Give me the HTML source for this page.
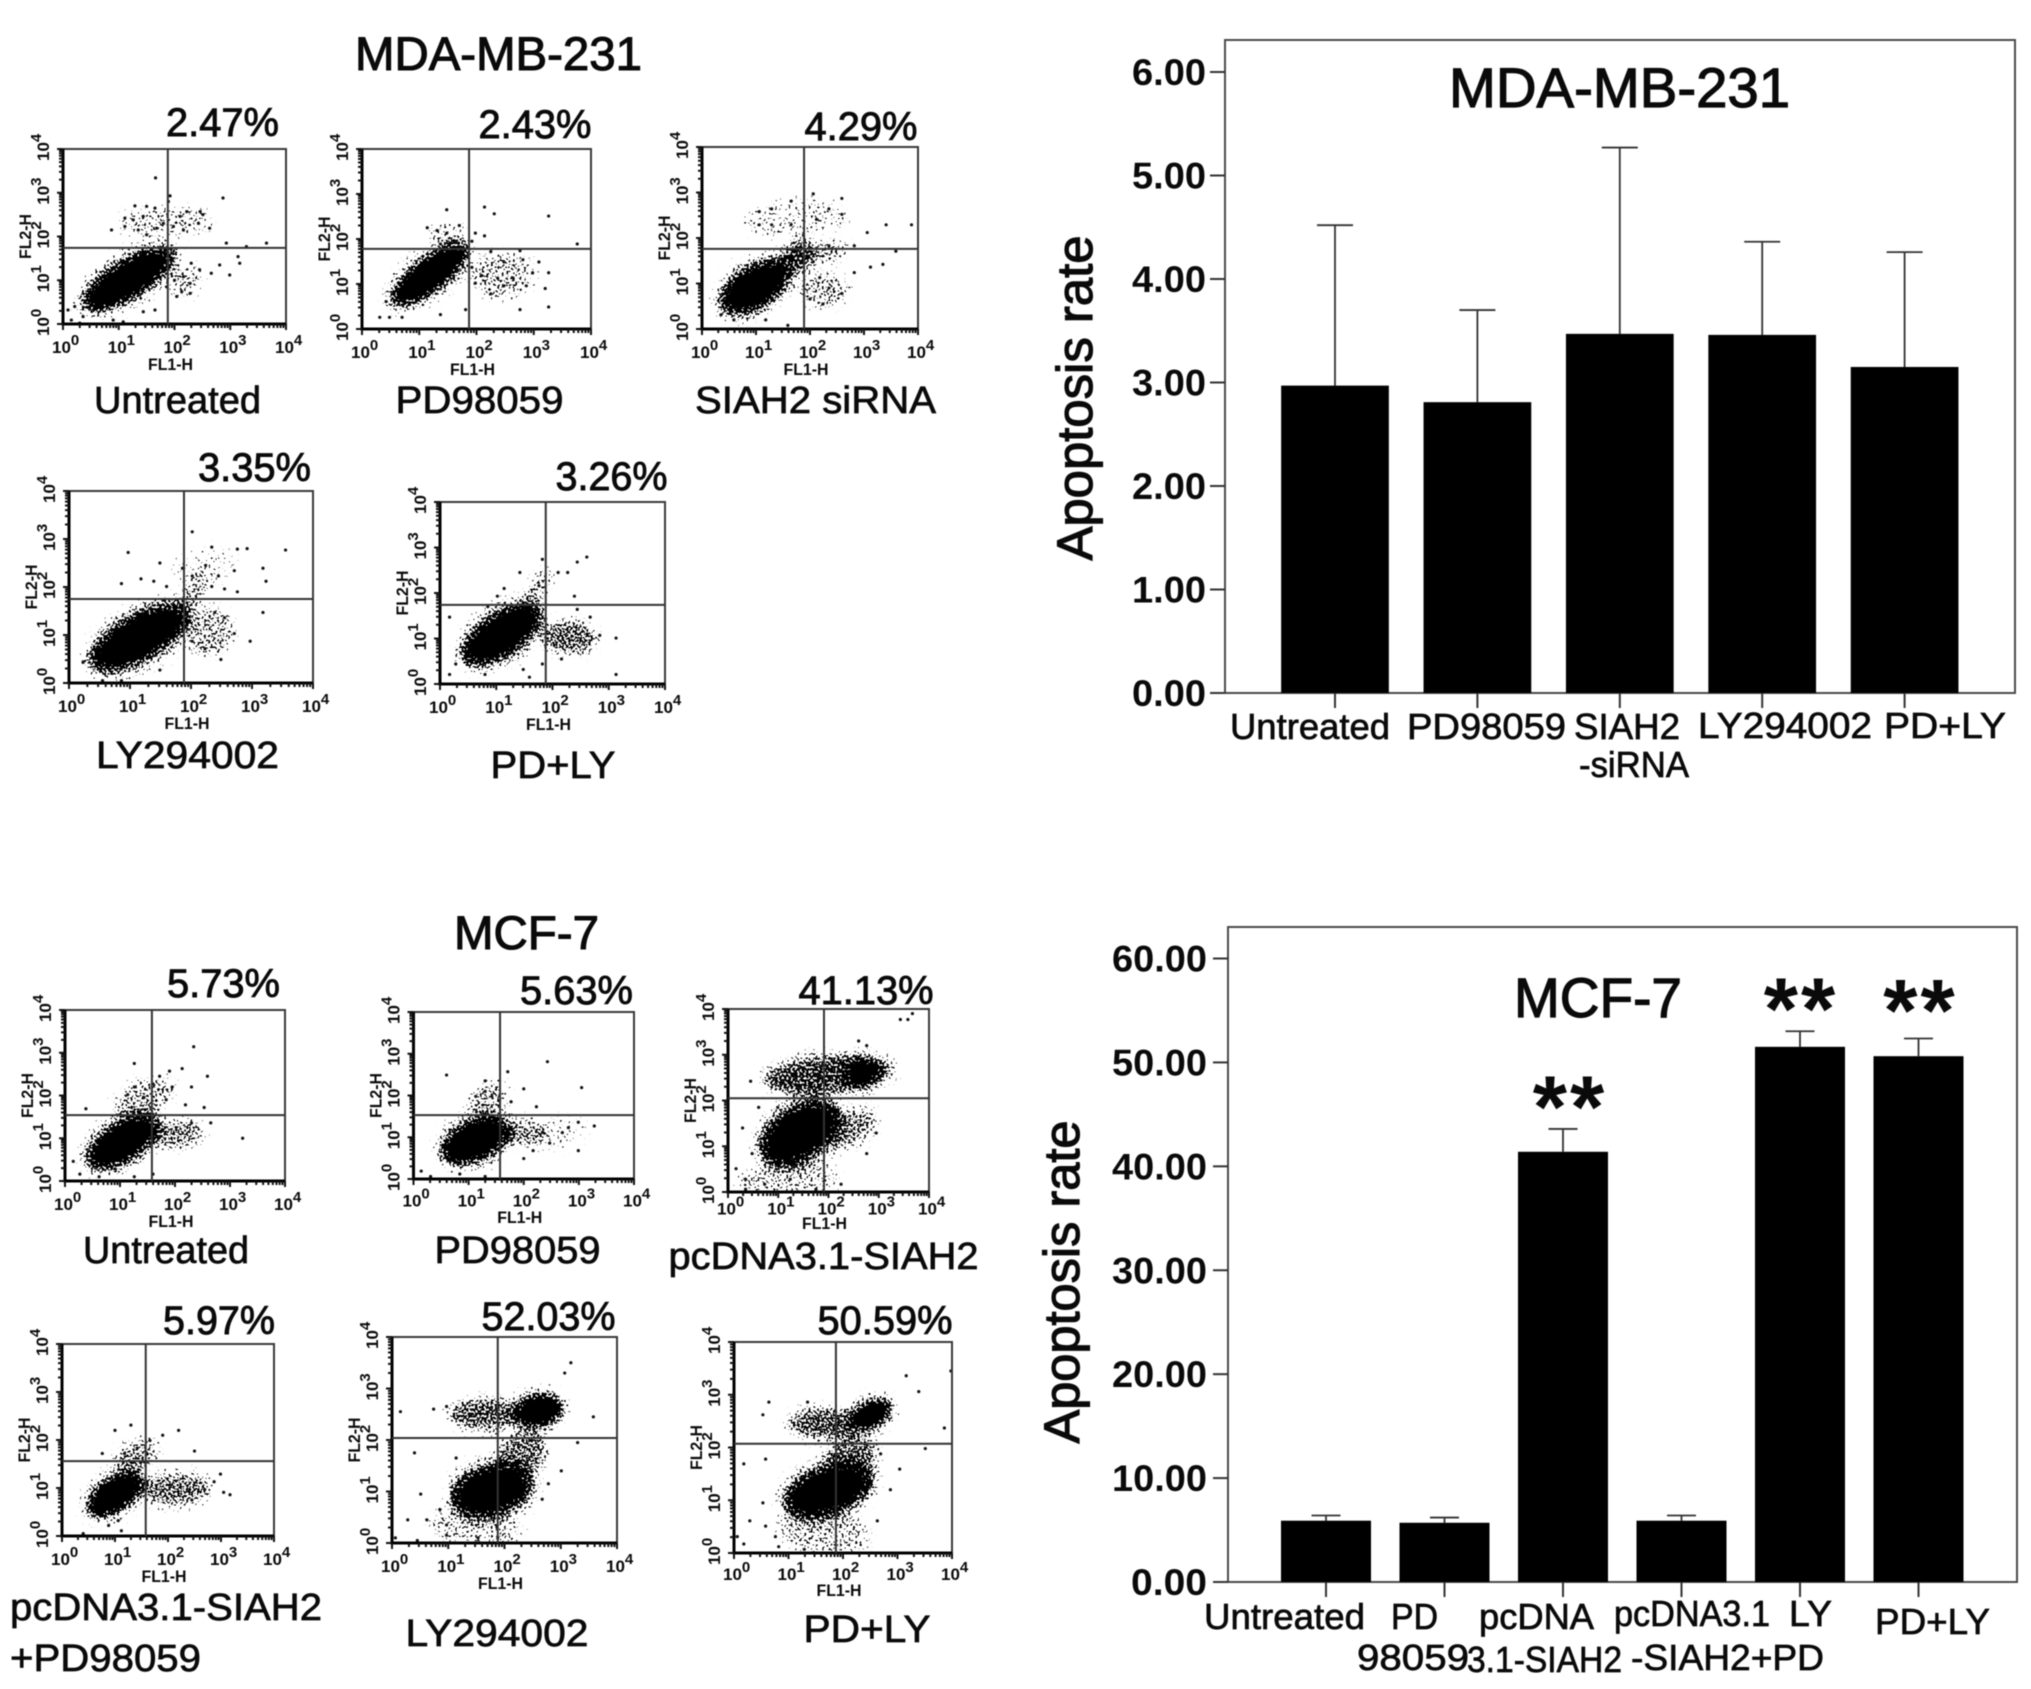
<!DOCTYPE html>
<html lang="en">
<head>
<meta charset="utf-8">
<title>Apoptosis rate in MDA-MB-231 and MCF-7</title>
<style>
html,body{margin:0;padding:0;background:#fff;}
svg{display:block;filter:blur(0.4px);}
text{font-family:"Liberation Sans",sans-serif;fill:#0a0a0a;}
.ttl{font-size:47px;stroke:#0a0a0a;stroke-width:1.1px;}
.pct{font-size:40px;stroke:#0a0a0a;stroke-width:.9px;}
.lab{font-size:38px;stroke:#0a0a0a;stroke-width:.7px;}
.cat{font-size:36px;stroke:#0a0a0a;stroke-width:.7px;}
.big{font-size:56px;stroke:#0a0a0a;stroke-width:1.2px;}
.ylab{font-size:50px;stroke:#0a0a0a;stroke-width:1.2px;}
</style>
</head>
<body>
<svg id="figure" xmlns="http://www.w3.org/2000/svg" width="2031" height="1689" viewBox="0 0 2031 1689">
<defs>
<filter id="speckle" x="-40%" y="-40%" width="180%" height="180%" color-interpolation-filters="sRGB">
<feTurbulence type="fractalNoise" baseFrequency="0.45" numOctaves="1" seed="7" result="noise"/>
<feColorMatrix in="noise" type="matrix" values="0 0 0 0 0  0 0 0 0 0  0 0 0 0 0  2.2 0 0 0 -0.6" result="noiseAlpha"/>
<feGaussianBlur in="SourceAlpha" stdDeviation="5" result="soft"/>
<feComposite in="soft" in2="noiseAlpha" operator="arithmetic" k1="0" k2="1" k3="1" k4="-1" result="sum"/>
<feColorMatrix in="sum" type="matrix" values="0 0 0 0 0  0 0 0 0 0  0 0 0 0 0  0 0 0 10 0"/>
</filter>
</defs>

<g>
<text class="ttl" x="355" y="70" textLength="287" lengthAdjust="spacingAndGlyphs">MDA-MB-231</text>
<text class="pct" x="166" y="136" textLength="113" lengthAdjust="spacingAndGlyphs">2.47%</text>
<text class="pct" x="478.5" y="138" textLength="113" lengthAdjust="spacingAndGlyphs">2.43%</text>
<text class="pct" x="804.5" y="140" textLength="113" lengthAdjust="spacingAndGlyphs">4.29%</text>
<text class="lab" x="94" y="413" textLength="167" lengthAdjust="spacingAndGlyphs">Untreated</text>
<text class="lab" x="395.5" y="413" textLength="168" lengthAdjust="spacingAndGlyphs">PD98059</text>
<text class="lab" x="695" y="413" textLength="241" lengthAdjust="spacingAndGlyphs">SIAH2 siRNA</text>
<text class="pct" x="198" y="481" textLength="113" lengthAdjust="spacingAndGlyphs">3.35%</text>
<text class="pct" x="555.5" y="490" textLength="112" lengthAdjust="spacingAndGlyphs">3.26%</text>
<text class="lab" x="96" y="768" textLength="183" lengthAdjust="spacingAndGlyphs">LY294002</text>
<text class="lab" x="490.5" y="778" textLength="125" lengthAdjust="spacingAndGlyphs">PD+LY</text>
</g>

<g>
<text class="ttl" x="454" y="949" textLength="145" lengthAdjust="spacingAndGlyphs">MCF-7</text>
<text class="pct" x="167" y="997" textLength="113" lengthAdjust="spacingAndGlyphs">5.73%</text>
<text class="pct" x="520" y="1004" textLength="113" lengthAdjust="spacingAndGlyphs">5.63%</text>
<text class="pct" x="798.5" y="1004" textLength="135" lengthAdjust="spacingAndGlyphs">41.13%</text>
<text class="lab" x="83" y="1263" textLength="166" lengthAdjust="spacingAndGlyphs">Untreated</text>
<text class="lab" x="434.5" y="1263" textLength="166" lengthAdjust="spacingAndGlyphs">PD98059</text>
<text class="lab" x="668.5" y="1269" textLength="310" lengthAdjust="spacingAndGlyphs">pcDNA3.1-SIAH2</text>
<text class="pct" x="163" y="1334" textLength="112" lengthAdjust="spacingAndGlyphs">5.97%</text>
<text class="pct" x="481.5" y="1330" textLength="134" lengthAdjust="spacingAndGlyphs">52.03%</text>
<text class="pct" x="817.5" y="1334" textLength="135" lengthAdjust="spacingAndGlyphs">50.59%</text>
<text class="lab" x="10" y="1620" textLength="312" lengthAdjust="spacingAndGlyphs">pcDNA3.1-SIAH2</text>
<text class="lab" x="10" y="1671" textLength="191" lengthAdjust="spacingAndGlyphs">+PD98059</text>
<text class="lab" x="405.5" y="1646" textLength="183" lengthAdjust="spacingAndGlyphs">LY294002</text>
<text class="lab" x="803.5" y="1642" textLength="127" lengthAdjust="spacingAndGlyphs">PD+LY</text>
</g>

<g id="flow-layer"></g>

<g id="mda-chart">
<text class="big" x="1449" y="107" textLength="341" lengthAdjust="spacingAndGlyphs">MDA-MB-231</text>
<text class="ylab" transform="translate(1092 398) rotate(-90)" text-anchor="middle" textLength="325" lengthAdjust="spacingAndGlyphs">Apoptosis rate</text>
<text class="cat" x="1230" y="739" textLength="160" lengthAdjust="spacingAndGlyphs">Untreated</text>
<text class="cat" x="1407" y="739" textLength="159" lengthAdjust="spacingAndGlyphs">PD98059</text>
<text class="cat" x="1574" y="739" textLength="106" lengthAdjust="spacingAndGlyphs">SIAH2</text>
<text class="cat" x="1579" y="777" textLength="110" lengthAdjust="spacingAndGlyphs">-siRNA</text>
<text class="cat" x="1698" y="738" textLength="174" lengthAdjust="spacingAndGlyphs">LY294002</text>
<text class="cat" x="1884" y="738" textLength="122" lengthAdjust="spacingAndGlyphs">PD+LY</text>
</g>

<g id="mcf-chart">
<text class="big" x="1514" y="1017" textLength="168" lengthAdjust="spacingAndGlyphs">MCF-7</text>
<text class="ylab" transform="translate(1079 1282) rotate(-90)" text-anchor="middle" textLength="323" lengthAdjust="spacingAndGlyphs">Apoptosis rate</text>
<text class="cat" x="1204" y="1629" textLength="161" lengthAdjust="spacingAndGlyphs">Untreated</text>
<text class="cat" x="1391" y="1629" textLength="47" lengthAdjust="spacingAndGlyphs">PD</text>
<text class="cat" x="1357" y="1670" textLength="112" lengthAdjust="spacingAndGlyphs">98059</text>
<text class="cat" x="1479" y="1629" textLength="115" lengthAdjust="spacingAndGlyphs">pcDNA</text>
<text class="cat" x="1467" y="1672" textLength="155" lengthAdjust="spacingAndGlyphs">3.1-SIAH2</text>
<text class="cat" x="1614" y="1626" textLength="156" lengthAdjust="spacingAndGlyphs">pcDNA3.1</text>
<text class="cat" x="1631" y="1670" textLength="193" lengthAdjust="spacingAndGlyphs">-SIAH2+PD</text>
<text class="cat" x="1789" y="1626" textLength="43" lengthAdjust="spacingAndGlyphs">LY</text>
<text class="cat" x="1875" y="1634" textLength="115" lengthAdjust="spacingAndGlyphs">PD+LY</text>
</g>
</svg>

<script>
// ---------- bar chart data ----------
const mdaCategories = ['Untreated','PD98059','SIAH2-siRNA','LY294002','PD+LY'];
const mdaValues = [2.97,2.81,3.47,3.46,3.15];
const mdaUpper = [4.52,3.70,5.27,4.36,4.26];
const mdaTicks = [0,1,2,3,4,5,6];
const mdaTickLabels = ['0.00','1.00','2.00','3.00','4.00','5.00','6.00'];

const mcfCategories = ['Untreated','PD98059','pcDNA3.1-SIAH2','pcDNA3.1-SIAH2+PD','LY','PD+LY'];
const mcfValues = [5.9,5.7,41.4,5.9,51.5,50.6];
const mcfUpper = [6.4,6.2,43.6,6.4,53.0,52.3];
const mcfTicks = [0,10,20,30,40,50,60];
const mcfTickLabels = ['0.00','10.00','20.00','30.00','40.00','50.00','60.00'];
const mcfSignificant = [false,false,true,false,true,true];

// ---------- flow cytometry data, all in log10 fluorescence decades ----------
const decades = [0,1,2,3,4];
const gateXValues = [1.88,1.87,1.89,1.885,1.88,1.58,1.57,1.91,1.58,1.88,1.87];
const gateYValues = [1.74,1.78,1.76,1.75,1.74,1.54,1.53,2.05,1.56,2.04,2.07];

// populations: [startX,startY,endX,endY,halfWidth,density]
const populationsA1 = [[.45,.47,1.9,1.6,.38,1],[1.1,2.3,2.6,2.4,.3,.3],[2.0,1.0,2.4,1.0,.3,.36]];
const populationsA2 = [[.6,.64,1.76,1.77,.33,1],[2.0,1.15,2.9,1.25,.45,.36],[1.3,2.1,1.7,2.1,.2,.32]];
const populationsA3 = [[.45,.53,1.5,1.3,.42,1],[1.5,1.3,1.93,1.8,.3,.72],[.9,2.35,2.6,2.5,.38,.24],[1.9,.85,2.6,.85,.33,.4],[2.0,1.6,2.6,1.75,.2,.45]];
const populationsA4 = [[.44,.43,1.86,1.46,.42,1],[2,1.1,2.6,1.0,.45,.4],[1.9,1.6,2.2,2.2,.2,.42],[1.8,2.4,2.7,2.5,.3,.16]];
const populationsA5 = [[.5,.6,1.7,1.6,.42,1],[1.9,1.05,2.7,1.0,.33,.58],[1.6,1.9,1.9,2.4,.2,.4]];
const populationsB1 = [[.5,.46,1.6,1.37,.4,1],[1.7,1.05,2.4,1.15,.3,.5],[1.0,1.7,1.9,2.2,.35,.4]];
const populationsB2 = [[.6,.62,1.65,1.23,.42,1],[1.7,1.1,2.3,1.1,.28,.48],[1.1,1.7,1.6,2.1,.3,.42],[2.3,1.0,3.0,1.2,.3,.2]];
const populationsB3 = [[.77,.85,2.1,1.73,.55,1],[2.4,2.55,2.9,2.65,.3,1],[.8,2.45,3.2,2.68,.42,.68],[.3,.2,2.1,.3,.4,.3],[2.1,1.15,2.8,1.65,.35,.5]];
const populationsB4 = [[.58,.55,1.4,1.18,.33,1],[1.55,.95,2.7,1.0,.33,.55],[1.1,1.5,1.7,1.8,.3,.45]];
const populationsB5 = [[1.15,.85,2.4,1.2,.46,1],[2.25,2.5,2.95,2.65,.3,1],[1.1,2.5,2.2,2.5,.3,.62],[2.0,1.4,2.6,2.0,.42,.56],[.8,.4,2.2,.2,.4,.3]];
const populationsB6 = [[1.02,.94,2.44,1.45,.44,1],[2.19,2.46,2.8,2.78,.25,1],[1.1,2.45,2.2,2.45,.3,.62],[1.8,1.6,2.5,2.0,.4,.58],[.9,.5,2.4,.3,.42,.33]];

// individually legible events: [x,y]
const eventsA1 = [[1.66,3.34],[1.92,2.93],[2.87,2.88],[1.29,2.7],[1.5,2.69],[1.65,2.65],[1.11,2.42],[1.11,2.23],[1.26,2.38],[1.44,2.46],[1.35,2.15],[1.5,2.04],[.87,2.15],[1.8,2.3],[1.68,2.19],[2.1,2.46],[2.22,2.57],[2.46,2.57],[2.51,2.5],[2.43,2.3],[2.63,2.19],[1.98,2.23],[2.16,2.15],[1.89,2.8],[2.93,1.85],[3.29,1.77],[3.65,1.85],[3.14,1.54],[2.81,1.35],[2.99,1.12],[3.17,1.39],[2.66,1.16],[2.45,1.24],[2.3,1.39],[2.28,.93],[2.13,.74],[2,1],[2.16,1.08],[2.28,.7],[2.04,.63],[1.86,.85],[.15,.09],[.3,.02],[.09,.32],[.36,.17],[.9,.09],[1.08,.05],[1.44,.28],[1.65,.32],[.21,.4]];
const eventsA2 = [[2.31,2.56],[3.26,2.51],[2.14,2.71],[3.76,1.89],[1.48,2.65],[1.14,2.25],[1.31,2.19],[1.48,2.13],[1.7,2.3],[1.98,2.13],[2.14,2.07],[1.37,1.89],[1.64,1.95],[1.92,1.95],[2.25,1.72],[2.76,1.74],[2.48,1.49],[2.81,1.54],[3.09,1.49],[3.26,1.25],[2.98,1.25],[2.64,1.13],[2.37,1.13],[2.09,1.19],[1.98,1.02],[2.48,.96],[2.87,.96],[3.2,.9],[2.76,.43],[3.26,.49],[2.25,.78],[1.92,1.37],[.31,.26],[.48,.26],[.7,.26],[.42,.61],[1.81,.43],[1.37,.32]];
const eventsA3 = [[1.06,2.58],[1.29,2.64],[1.65,2.81],[2.06,2.97],[2.59,2.87],[2.35,2.64],[2.12,2.41],[2.59,2.52],[1.06,2.29],[1.29,2.29],[1.65,2.29],[3.41,2.29],[3.88,2.29],[3.59,1.71],[3.12,1.36],[3.35,1.42],[2.82,1.24],[2.35,.9],[2.59,.78],[2.24,.55],[2,.66],[2.82,1.83],[3.06,2.12],[2.35,1.83],[.35,.31],[.59,.2],[1.18,.2],[1.59,.08],[2.18,1.13],[2.06,1.48],[1.88,2.06],[1.76,1.71]];
const eventsA4 = [[.97,2.72],[1.49,2.5],[2.02,3.15],[2.34,2.83],[2.76,2.79],[2.92,2.8],[3.55,2.77],[3.18,2.39],[3.23,2.12],[2.71,2.34],[2.45,2.23],[2.24,2.45],[1.86,2.39],[2.02,2.23],[2.34,2.01],[2.55,1.96],[2.76,1.9],[1.18,2.17],[1.39,2.12],[.86,2.07],[1.6,2.01],[3.18,1.47],[2.97,.87],[2.55,1.36],[2.39,1.47],[2.49,.49],[2.23,.71],[2.02,.87],[2.71,1.03],[.23,.43],[.55,.05],[.86,.05],[1.49,.27]];
const eventsA5 = [[2.61,2.79],[2.44,2.68],[1.82,2.74],[1.42,2.45],[2.1,2.45],[2.27,2.45],[2.39,1.93],[1.76,2.16],[1.14,2.1],[1.02,1.93],[.85,1.7],[3.13,1.01],[3.13,.21],[2.84,1.07],[2.67,1.47],[2.44,1.64],[.17,1.47],[.28,.44],[.17,.21],[1.48,.32],[1.59,.15],[.8,.21],[1.82,.44],[2.16,.55]];
const eventsB1 = [[2.34,3.14],[1.26,2.75],[2.13,2.63],[1.9,2.57],[1.72,2.45],[2.59,2.45],[1.6,2.27],[1.95,2.2],[2.3,2.2],[1.26,2.2],[1.14,2.02],[1.43,1.96],[1.84,1.9],[2.19,1.78],[2.53,1.72],[2.3,1.36],[2.65,1.36],[3.23,1],[.38,1.69],[.27,.16],[.62,.1],[.91,.28],[1.26,.1],[1.6,.16],[.15,.46]];
const eventsB2 = [[2.43,2.81],[1.71,2.57],[.6,2.49],[3.05,2.19],[2,2.16],[1.3,2.35],[1.13,1.98],[1.42,1.98],[1.77,1.85],[2.23,1.73],[1.3,2.1],[3.28,1.27],[2.99,1.36],[2.7,1.11],[2.35,1.11],[2.99,.68],[2.47,.86],[2.17,.68],[2.81,1.23],[2,.49],[.14,.19],[.31,.06],[.84,.12],[1.3,.06]];
const eventsB3 = [[3.43,3.77],[3.58,3.77],[3.67,3.9],[2.6,3.3],[2.76,3.2],[.45,2.42],[.35,.28],[.16,.51],[.48,.84],[.35,.06],[.73,.17],[1.24,.28],[1.75,.06],[2.25,.17],[2.76,.84],[2.95,1.29],[.61,1.85],[.99,1.85],[1.37,1.85],[.29,1.4]];
const eventsB4 = [[1.3,2.31],[1,2.2],[2.2,2.2],[1.9,2.1],[1.66,1.99],[2.5,1.77],[1.42,1.83],[1.18,1.72],[.76,1.72],[2.99,1.29],[2.87,1.13],[3.05,.91],[3.17,.86],[.4,.05],[.88,.22],[1.12,.11],[1.06,.32],[2.45,.75],[2.69,.97]];
const eventsB5 = [[3.18,3.5],[3.07,3.3],[.15,2.55],[.4,1.75],[.51,.95],[.28,.45],[.06,.1],[.45,.05],[.97,.15],[1.53,.1],[1.88,.1],[.62,.45],[.85,.65],[.97,.35],[.74,2.6],[.97,2.65],[3.58,2.45],[3.3,1.95],[2.78,1.15],[3.01,1.4],[2.67,.85],[1.14,1.65],[1.31,1.35]];
const eventsB6 = [[3.16,3.36],[3.39,3.06],[3.98,3.45],[.53,2.62],[.64,2.86],[1.35,2.86],[.06,.31],[.18,.17],[.29,.61],[.53,.95],[.18,1.69],[.58,1.78],[3.51,1.98],[3.86,2.37],[2.69,1.88],[2.87,1.2],[3.04,1.59],[2.63,.61],[.82,.12],[1.29,.07],[.58,.51],[.76,.31]];

const allPopulations = [populationsA1,populationsA2,populationsA3,populationsA4,populationsA5,populationsB1,populationsB2,populationsB3,populationsB4,populationsB5,populationsB6];
const allEvents = [eventsA1,eventsA2,eventsA3,eventsA4,eventsA5,eventsB1,eventsB2,eventsB3,eventsB4,eventsB5,eventsB6];

// ---------- layout (kept apart from the data) ----------
const panelFrames = [
  {x0:63,x1:286,y0:149,y1:324,labelShift:0},{x0:362,x1:591,y0:149,y1:329,labelShift:0},{x0:702,x1:918,y0:147,y1:329,labelShift:0},
  {x0:69,x1:313,y0:491,y1:683,labelShift:0},{x0:440,x1:665,y0:502,y1:684,labelShift:0},
  {x0:65,x1:285,y0:1010,y1:1181,labelShift:0},{x0:413.5,x1:634,y0:1012,y1:1179,labelShift:-2},{x0:728,x1:929,y0:1009,y1:1192,labelShift:-9},
  {x0:62,x1:274,y0:1344,y1:1536,labelShift:0},{x0:392,x1:617,y0:1337,y1:1543,labelShift:0},{x0:734,x1:952,y0:1342,y1:1553,labelShift:-3}
];
const mcfStarGaps = [0,0,30,0,30,36];
const mcfStarShifts = [0,0,7,0,1,2];
const SVGNS = 'http://www.w3.org/2000/svg';

function make(tag, attrs, parent, text) {
  const el = document.createElementNS(SVGNS, tag);
  for (const k in attrs) el.setAttribute(k, attrs[k]);
  if (text !== undefined) el.textContent = text;
  parent.appendChild(el);
  return el;
}

// ---------- flow panels ----------
function drawPanel(index) {
  const f = panelFrames[index];
  const sx = v => f.x0 + (f.x1 - f.x0) * v / 4;
  const sy = v => f.y1 - (f.y1 - f.y0) * v / 4;
  const layer = document.getElementById('flow-layer');

  const panel = make('g', {}, layer);
  
  

  const clip = make('clipPath', {id: 'clip' + index}, panel);
  make('rect', {x: f.x0, y: f.y0, width: f.x1 - f.x0, height: f.y1 - f.y0}, clip);

  const clipped = make('g', {'clip-path': 'url(#clip' + index + ')'}, panel);
  
  

  const cloudLayer = make('g', {filter: 'url(#speckle)'}, clipped);
  
  

  const solidLayer = make('g', {}, clipped);
  
  

  const scale = ((f.x1 - f.x0) + (f.y1 - f.y0)) / 8;
  allPopulations[index].forEach(p => {
    const ax = sx(p[0]), ay = sy(p[1]), bx = sx(p[2]), by = sy(p[3]);
    const len = Math.hypot(bx - ax, by - ay);
    const angle = Math.atan2(by - ay, bx - ax) * 180 / Math.PI;
    const cx = (ax + bx) / 2, cy = (ay + by) / 2;
    const rotate = 'rotate(' + angle + ' ' + cx + ' ' + cy + ')';
    if (p[5] === 1) {
      const halo = make('ellipse', {cx: cx, cy: cy, rx: len / 2 * 1.1 + 6, ry: p[4] * scale * 1.4, fill: '#000', 'fill-opacity': .3, transform: rotate}, cloudLayer);
      
      

      const solid = make('ellipse', {cx: cx, cy: cy, rx: len / 2 * .88, ry: p[4] * scale * .72, fill: '#000', transform: rotate}, solidLayer);
      
      
    }
    const cloud = make('ellipse', {cx: cx, cy: cy, rx: len / 2 + 6, ry: p[4] * scale, fill: '#000', 'fill-opacity': p[5], transform: rotate}, cloudLayer);
    
    
  });

  allEvents[index].forEach(e => {
    const dot = make('circle', {cx: sx(e[0]), cy: sy(e[1]), r: 1.6, fill: '#111'}, clipped);
    
    
  });

  const frame = make('rect', {x: f.x0, y: f.y0, width: f.x1 - f.x0, height: f.y1 - f.y0, fill: 'none', stroke: '#3a3a3a', 'stroke-width': 2}, panel);
  
  

  const axisLine = make('path', {d: 'M' + f.x0 + ' ' + f.y0 + 'V' + f.y1 + 'H' + f.x1, fill: 'none', stroke: '#000', 'stroke-width': 3}, panel);
  
  

  const gateV = make('line', {x1: sx(gateXValues[index]), x2: sx(gateXValues[index]), y1: f.y0, y2: f.y1, stroke: '#333', 'stroke-width': 2}, panel);
  
  

  const gateH = make('line', {x1: f.x0, x2: f.x1, y1: sy(gateYValues[index]), y2: sy(gateYValues[index]), stroke: '#333', 'stroke-width': 2}, panel);
  
  

  let d = '';
  decades.forEach(dec => {
    d += 'M' + sx(dec) + ' ' + f.y1 + 'v6 M' + (f.x0 - 6) + ' ' + sy(dec) + 'h6 ';
    if (dec < 4) for (let m = 2; m < 10; m++) {
      const v = dec + Math.log10(m);
      d += 'M' + sx(v) + ' ' + f.y1 + 'v4 M' + (f.x0 - 4) + ' ' + sy(v) + 'h4 ';
    }
  });
  const ticks = make('path', {d: d, stroke: '#111', 'stroke-width': 2, fill: 'none'}, panel);
  
  

  decades.forEach(dec => {
    const xl = make('text', {x: sx(dec) - 11, y: f.y1 + 29 + f.labelShift * .7, 'font-size': 17, 'font-weight': 'bold'}, panel);
    
    
    make('tspan', {}, xl, '10');
    make('tspan', {dy: -8, 'font-size': 15}, xl, String(dec));

    const yl = make('text', {transform: 'translate(' + (f.x0 - 14) + ' ' + (sy(dec) + 12) + ') rotate(-90)', 'font-size': 17, 'font-weight': 'bold'}, panel);
    
    
    make('tspan', {}, yl, '10');
    make('tspan', {dy: -8, 'font-size': 15}, yl, String(dec));
  });

  const xTitle = make('text', {x: (f.x0 + f.x1) / 2 - 4, y: f.y1 + 46 + f.labelShift, 'font-size': 17, 'font-weight': 'bold', 'text-anchor': 'middle', textLength: 45, lengthAdjust: 'spacingAndGlyphs'}, panel, 'FL1-H');
  
  

  const yTitle = make('text', {transform: 'translate(' + (f.x0 - 32) + ' ' + ((f.y0 + f.y1) / 2) + ') rotate(-90)', 'font-size': 17, 'font-weight': 'bold', 'text-anchor': 'middle', textLength: 45, lengthAdjust: 'spacingAndGlyphs'}, panel, 'FL2-H');
  
  
}
panelFrames.forEach((f, i) => drawPanel(i));

// ---------- bar charts ----------
function drawBars(cfg) {
  const root = document.getElementById(cfg.rootId);
  const y = v => cfg.yZero + (cfg.yMax - cfg.yZero) * v / cfg.domainMax;
  const x = i => cfg.firstCenter + cfg.step * i;

  const box = make('rect', {x: cfg.left, y: cfg.top, width: cfg.right - cfg.left, height: cfg.yZero - cfg.top, fill: 'none', stroke: '#4a4a4a', 'stroke-width': 2}, root);
  
  

  cfg.ticks.forEach((t, i) => {
    const tick = make('line', {x1: cfg.left - 15, x2: cfg.left, y1: y(t), y2: y(t), stroke: '#333', 'stroke-width': 2}, root);
    
    

    const w = cfg.tickLabels[i].length > 4 ? 95 : cfg.shortLabelWidth;
    const label = make('text', {x: cfg.labelRight, y: y(t) + 13, 'font-size': 37, 'font-weight': 'bold', 'text-anchor': 'end', textLength: w, lengthAdjust: 'spacingAndGlyphs'}, root, cfg.tickLabels[i]);
    
    
  });

  cfg.values.forEach((v, i) => {
    const whisker = make('line', {x1: x(i), x2: x(i), y1: y(v), y2: y(cfg.upper[i]), stroke: '#333', 'stroke-width': 1.8}, root);
    
    

    const cap = make('line', {x1: x(i) - cfg.capWidth / 2, x2: x(i) + cfg.capWidth / 2, y1: y(cfg.upper[i]), y2: y(cfg.upper[i]), stroke: '#333', 'stroke-width': 1.8}, root);
    
    

    const bar = make('rect', {x: x(i) - cfg.barWidth / 2, y: y(v), width: cfg.barWidth, height: cfg.yZero - y(v), fill: '#000'}, root);
    
    

    const tick = make('line', {x1: x(i), x2: x(i), y1: cfg.yZero, y2: cfg.yZero + 15, stroke: '#333', 'stroke-width': 2}, root);
    
    

    if (cfg.significant && cfg.significant[i]) {
      const star = make('text', {x: x(i) + cfg.starShifts[i], y: y(cfg.upper[i]) - cfg.starGaps[i] + 38, 'font-size': 88, 'font-weight': 'bold', 'text-anchor': 'middle', 'letter-spacing': 3}, root, '**');
      
      
    }
  });
}

drawBars({rootId: 'mda-chart', left: 1225, right: 2015, top: 40, yZero: 693, yMax: 72, domainMax: 6, firstCenter: 1335, step: 142.4, barWidth: 107.7, capWidth: 36, labelRight: 1206, shortLabelWidth: 74, categories: mdaCategories, values: mdaValues, upper: mdaUpper, ticks: mdaTicks, tickLabels: mdaTickLabels});
drawBars({rootId: 'mcf-chart', left: 1228, right: 2017, top: 927, yZero: 1582, yMax: 958.5, domainMax: 60, firstCenter: 1326, step: 118.5, barWidth: 90, capWidth: 29, labelRight: 1207, shortLabelWidth: 76, categories: mcfCategories, values: mcfValues, upper: mcfUpper, ticks: mcfTicks, tickLabels: mcfTickLabels, significant: mcfSignificant, starGaps: mcfStarGaps, starShifts: mcfStarShifts});
</script>
</body>
</html>
